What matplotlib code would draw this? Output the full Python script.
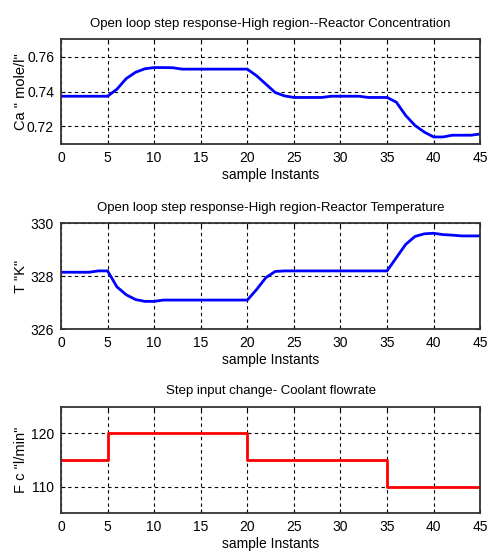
import numpy as np
import matplotlib
matplotlib.use('Agg')
from matplotlib import pyplot as plt

plt.rcParams['font.family'] = ['Liberation Sans', 'DejaVu Sans']

samples = np.arange(0, 46)

# reactor concentration, mole/l
ca = [0.7373, 0.7373, 0.7373, 0.7373, 0.7373, 0.7373, 0.7413, 0.7474, 0.751, 0.753,
      0.7537, 0.7537, 0.7536, 0.7528, 0.7528, 0.7528, 0.7528, 0.7528, 0.7528, 0.7528,
      0.7528, 0.749, 0.7442, 0.7394, 0.7375, 0.7366, 0.7366, 0.7366, 0.7366, 0.7373,
      0.7373, 0.7373, 0.7373, 0.7366, 0.7366, 0.7366, 0.7339, 0.7263, 0.7206, 0.7168,
      0.714, 0.714, 0.715, 0.715, 0.715, 0.7157]

# reactor temperature, K
temp = [328.15, 328.15, 328.15, 328.15, 328.2, 328.2, 327.6, 327.3, 327.12, 327.05,
        327.05, 327.1, 327.1, 327.1, 327.1, 327.1, 327.1, 327.1, 327.1, 327.1,
        327.1, 327.5, 327.95, 328.18, 328.2, 328.2, 328.2, 328.2, 328.2, 328.2,
        328.2, 328.2, 328.2, 328.2, 328.2, 328.2, 328.7, 329.2, 329.5, 329.6,
        329.62, 329.57, 329.55, 329.52, 329.52, 329.52]

# coolant flowrate steps
fc_t = [0, 5, 20, 35, 45]
fc = [115, 120, 115, 110, 110]

fig = plt.figure(figsize=(4.88, 5.58), dpi=100)

def style(ax, yt):
    ax.set_xlim(0, 45)
    ax.set_xticks(range(0, 46, 5))
    ax.set_yticks(yt)
    ax.grid(True, color='black', linestyle=(0, (3, 3)), linewidth=0.8)
    ax.tick_params(direction='in', length=3, top=True, right=True, labelsize=10, pad=5)
    for s in ax.spines.values():
        s.set_linewidth(1.3)
        s.set_color('#333333')
    ax.set_xlabel('sample Instants', fontsize=10, labelpad=2)
    ax.yaxis.set_label_coords(-0.078, 0.5)

ax1 = fig.add_axes([0.125, 0.742, 0.859, 0.188])
ax1.plot(samples, ca, color='#0000ff', linewidth=2)
ax1.set_ylim(0.71, 0.77)
style(ax1, [0.72, 0.74, 0.76])
ax1.set_title('Open loop step response-High region--Reactor Concentration', fontsize=9.5, pad=9)
ax1.set_ylabel('Ca " mole/l"', fontsize=10.5)

ax2 = fig.add_axes([0.125, 0.410, 0.859, 0.190])
ax2.plot(samples, temp, color='#0000ff', linewidth=2)
ax2.set_ylim(326, 330)
style(ax2, [326, 328, 330])
ax2.set_title('Open loop step response-High region-Reactor Temperature', fontsize=9.5, pad=9)
ax2.set_ylabel('T "K"', fontsize=10.5)

ax3 = fig.add_axes([0.125, 0.080, 0.859, 0.191])
ax3.step(fc_t, fc, where='post', color='#ff0000', linewidth=2)
ax3.set_ylim(105, 125)
style(ax3, [110, 120])
ax3.set_title('Step input change- Coolant flowrate', fontsize=9.5, pad=9)
ax3.set_ylabel('F c "l/min"', fontsize=10.5)

fig.savefig('out.png', dpi=100, facecolor='white')
